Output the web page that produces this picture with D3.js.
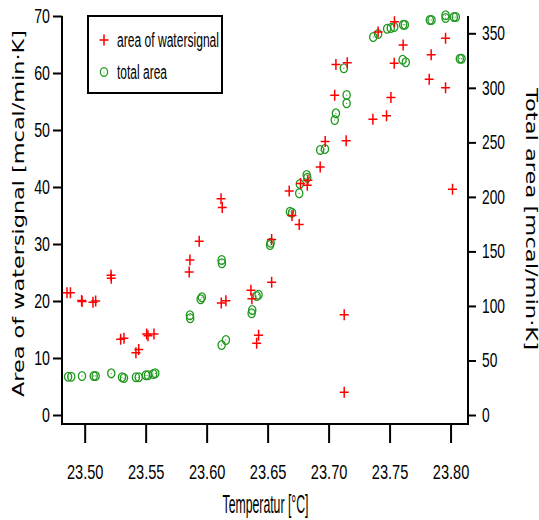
<!DOCTYPE html>
<meta charset="utf-8">
<style>
    body { margin: 0; background: #fff; }
    .tick text { font-family: "Liberation Sans Narrow", "Liberation Sans", sans-serif; font-size: 20px; fill: #000; }
    .tick line { stroke: #000; stroke-width: 2; }
</style>
<body>
<script src="https://cdn.jsdelivr.net/npm/d3@7"></script>
<script>
    // area of watersignal (left axis) -- temperature / value
    var waterTemp = [23.4855, 23.4883, 23.4975, 23.4978, 23.5068, 23.5090, 23.5216, 23.5218, 23.5295, 23.5322,
        23.5420, 23.5443, 23.5508, 23.5519, 23.5568, 23.5857, 23.5863, 23.5939, 23.6118, 23.6128,
        23.6120, 23.6158, 23.6363, 23.6371, 23.6410, 23.6426, 23.6533, 23.6533, 23.6677, 23.6700,
        23.6759, 23.6770, 23.6825, 23.6830, 23.6931, 23.6972, 23.7050, 23.7060, 23.7128, 23.7128,
        23.7144, 23.7153, 23.7363, 23.7406, 23.7475, 23.7511, 23.7538, 23.7540, 23.7611, 23.7825,
        23.7841, 23.7959, 23.7959, 23.8016]
    var waterArea = [21.45, 21.45, 20.1, 19.9, 19.8, 20.0, 24.5, 24.0, 13.3, 13.45,
        10.9, 11.5, 14.2, 13.9, 14.2, 25.1, 27.2, 30.5, 37.95, 36.4,
        19.65, 20.05, 21.9, 20.4, 12.6, 14.0, 30.8, 23.3, 39.3, 35.0,
        33.4, 40.6, 40.3, 41.2, 43.5, 48.0, 56.1, 61.5, 17.6, 4.0,
        48.1, 61.8, 51.9, 67.2, 52.5, 55.7, 61.7, 69.0, 64.9, 58.9,
        63.2, 66.1, 57.4, 39.6]

    // total area (right axis)
    var totalTemp = [23.4864, 23.4890, 23.4978, 23.5074, 23.5090, 23.5218, 23.5306, 23.5322, 23.5420, 23.5443,
        23.5502, 23.5519, 23.5562, 23.5579, 23.5863, 23.5865, 23.5951, 23.5961, 23.6123, 23.6125,
        23.6123, 23.6158, 23.6369, 23.6374, 23.6410, 23.6426, 23.6520, 23.6525, 23.6683, 23.6700,
        23.6759, 23.6764, 23.6820, 23.6825, 23.6931, 23.6970, 23.7050, 23.7060, 23.7125, 23.7148,
        23.7148, 23.7366, 23.7406, 23.7480, 23.7510, 23.7538, 23.7611, 23.7625, 23.7607, 23.7633,
        23.7830, 23.7844, 23.7959, 23.7959, 23.8027, 23.8043, 23.8076, 23.8090]
    var totalArea = [35.1, 35.1, 35.8, 35.8, 35.8, 38.2, 34.6, 33.9, 34.6, 34.6,
        36.4, 36.4, 37.6, 38.2, 91.4, 88.7, 106.1, 107.9, 142.1, 139.1,
        64.2, 68.8, 93.3, 96.3, 109.1, 110.3, 155.9, 158.0, 186.4, 185.5,
        203.3, 211.8, 220.0, 217.5, 243.0, 243.9, 270.5, 276.6, 317.9, 285.8,
        293.4, 346.6, 349.3, 354.2, 354.9, 355.8, 357.9, 357.9, 325.8, 323.4,
        362.2, 362.2, 364.0, 366.5, 364.9, 364.9, 326.7, 326.7]

    var xTicks = [23.50, 23.55, 23.60, 23.65, 23.70, 23.75, 23.80]
    var leftTicks = [0, 10, 20, 30, 40, 50, 60, 70]
    var rightTicks = [0, 50, 100, 150, 200, 250, 300, 350]

    var width = 539,
        height = 520
    var plotL = 62, plotR = 468, plotT = 16, plotB = 424

    var svg = d3.select("body").append("svg")
        .attr("width", width)
        .attr("height", height)

    var x = d3.scaleLinear().domain([23.4814, 23.8143]).range([plotL, plotR])
    var yL = d3.scaleLinear().domain([0, 70]).range([415, plotT])
    var yR = d3.scaleLinear().domain([0, 350]).range([415, 33.3])

    var red = "#ff0000", green = "#1f981f"

    // squeeze tick labels sideways like the narrow font of the original
    function squeeze(sel, k) {
        sel.selectAll(".tick text").each(function () {
            var t = d3.select(this)
            var tx = +t.attr("x") || 0
            t.attr("x", 0).attr("transform", "translate(" + tx + ",0) scale(" + k + ",1)")
        })
    }

    var gx = svg.append("g").attr("transform", "translate(0," + plotB + ")")
        .call(d3.axisBottom(x).tickValues(xTicks).tickFormat(d3.format(".2f")).tickSize(19).tickSizeOuter(0).tickPadding(22))
    gx.select(".domain").remove()
    squeeze(gx, 0.73)

    var gl = svg.append("g").attr("transform", "translate(" + plotL + ",0)")
        .call(d3.axisLeft(yL).tickValues(leftTicks).tickSize(9).tickSizeOuter(0).tickPadding(3))
    gl.select(".domain").remove()
    squeeze(gl, 0.71)

    var gr = svg.append("g").attr("transform", "translate(" + plotR + ",0)")
        .call(d3.axisRight(yR).tickValues(rightTicks).tickSize(8).tickSizeOuter(0).tickPadding(6))
    gr.select(".domain").remove()
    squeeze(gr, 0.69)

    // axis lines (no top frame)
    svg.append("path")
        .attr("d", "M" + plotL + "," + plotT + "V" + plotB + "H" + plotR + "V" + plotT)
        .attr("fill", "none").attr("stroke", "#000").attr("stroke-width", 2)

    // total area: open circles
    var circ = svg.append("g").selectAll("g")
        .data(totalTemp.map(function (t, i) { return [t, totalArea[i]] }))
        .enter().append("g")
        .attr("transform", function (d) { return "translate(" + x(d[0]) + "," + yR(d[1]) + ")" })
    circ.append("ellipse").attr("rx", 3.6).attr("ry", 4.4)
        .attr("fill", "none").attr("stroke", green).attr("stroke-width", 1.3)
    circ.append("circle").attr("r", 0.6).attr("fill", green)

    // area of watersignal: crosses
    svg.append("g").selectAll("path")
        .data(waterTemp.map(function (t, i) { return [t, waterArea[i]] }))
        .enter().append("path")
        .attr("d", function (d) {
            var cx = x(d[0]), cy = yL(d[1])
            return "M" + (cx - 4.5) + "," + cy + "H" + (cx + 4.5) + "M" + cx + "," + (cy - 5.5) + "V" + (cy + 5.5)
        })
        .attr("stroke", red).attr("stroke-width", 1.5).attr("fill", "none")

    // legend
    var lg = svg.append("g")
    lg.append("rect").attr("x", 88).attr("y", 16).attr("width", 134).attr("height", 77)
        .attr("fill", "#fff").attr("stroke", "#000").attr("stroke-width", 2)
    lg.append("path").attr("d", "M99.5,40H108.5M104,34.5V45.5")
        .attr("stroke", red).attr("stroke-width", 1.5)
    lg.append("ellipse").attr("cx", 104).attr("cy", 72).attr("rx", 3.6).attr("ry", 4.4)
        .attr("fill", "none").attr("stroke", green).attr("stroke-width", 1.3)
    lg.append("circle").attr("cx", 104).attr("cy", 72).attr("r", 0.6).attr("fill", green)
    var legendFont = "'Liberation Sans Narrow', 'Liberation Sans', sans-serif"
    lg.append("text").attr("x", 117).attr("y", 47).text("area of watersignal")
        .style("font-family", legendFont).style("font-size", "20px")
        .attr("textLength", 102).attr("lengthAdjust", "spacingAndGlyphs")
    lg.append("text").attr("x", 117).attr("y", 78.5).text("total area")
        .style("font-family", legendFont).style("font-size", "20px")
        .attr("textLength", 50).attr("lengthAdjust", "spacingAndGlyphs")

    // axis titles
    svg.append("text")
        .attr("transform", "translate(24,213.5) rotate(-90)")
        .attr("text-anchor", "middle")
        .style("font-family", "'DejaVu Sans', sans-serif").style("font-size", "15.5px")
        .attr("textLength", 367).attr("lengthAdjust", "spacingAndGlyphs")
        .text("Area of watersignal [mcal/min\u00b7K]")

    svg.append("text")
        .attr("transform", "translate(525.5,219) rotate(90)")
        .attr("text-anchor", "middle")
        .style("font-family", "'DejaVu Sans', sans-serif").style("font-size", "16px")
        .attr("textLength", 262).attr("lengthAdjust", "spacingAndGlyphs")
        .text("Total area [mcal/min\u00b7K]")

    svg.append("text")
        .attr("x", 265.5).attr("y", 513)
        .attr("text-anchor", "middle")
        .style("font-family", legendFont).style("font-size", "26px")
        .attr("textLength", 86).attr("lengthAdjust", "spacingAndGlyphs")
        .text("Temperatur [\u00b0C]")
</script>
</body>
